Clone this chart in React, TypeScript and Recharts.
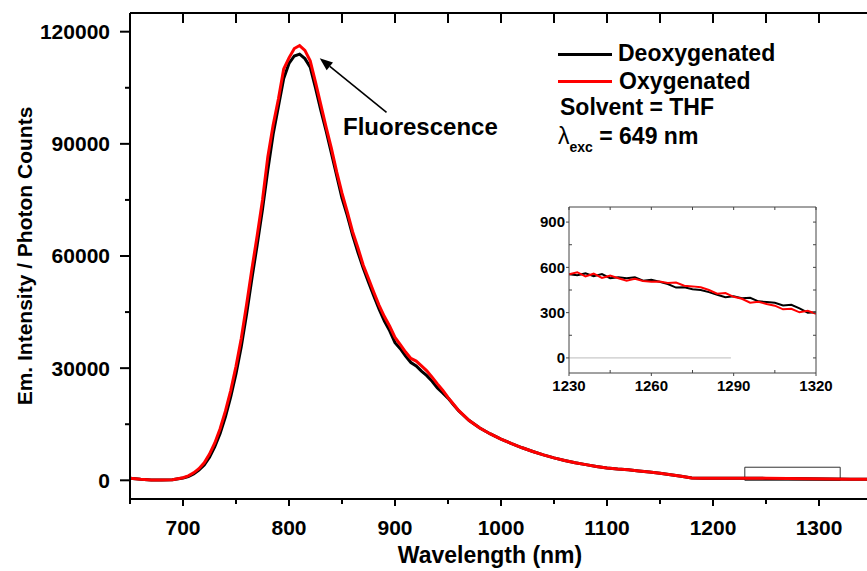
import { LineChart, Line, XAxis, YAxis, ReferenceArea, ReferenceLine } from "recharts";

const FONT = "'Liberation Sans', Arial, Helvetica, sans-serif";

// main spectrum (nm vs photon counts)
const wavelength = [
  650, 660, 670, 680, 690,
  700, 705, 710, 715, 720, 725, 730, 735, 740, 745,
  750, 755, 760, 765, 770, 775, 780, 785, 790, 795,
  800, 805, 810, 815, 820, 825, 830, 835, 840, 845,
  850, 855, 860, 865, 870, 875, 880, 885, 890, 895,
  900, 905, 910, 915, 920, 925, 930, 935, 940, 945,
  950, 955, 960,
  970, 980, 990, 1000, 1010, 1020, 1030, 1040, 1050, 1060,
  1070, 1080, 1090, 1100, 1110, 1120, 1130, 1140, 1150, 1160,
  1170, 1180,
  1190, 1210, 1230, 1250, 1270, 1290, 1310, 1330, 1350,
];

const oxygenated = [
  550, 280, 100, 60, 180,
  700, 1200, 2000, 3100, 4700, 7000, 10000, 13800, 18500, 24000,
  30500, 38000, 47000, 56500, 65500, 75000, 86500, 95000, 102000, 110000,
  113000, 115500, 116300, 115000, 112200, 106500, 100500, 94500, 88800, 82500,
  76800, 71800, 66500, 62200, 57600, 54000, 50300, 46800, 43800, 41200,
  38200, 36300, 34300, 32600, 31900, 30600, 29300, 27600, 25800, 24100,
  22200, 20400, 18700,
  16000, 14000, 12400, 11000, 9800, 8700, 7700, 6800, 6000, 5300,
  4700, 4200, 3700, 3300, 3000, 2800, 2500, 2200, 1900, 1500,
  1100, 650,
  580, 570, 555, 520, 490, 405, 330, 280, 250,
];

const deoxygenated = [
  550, 280, 100, 60, 160,
  600, 1000, 1700, 2700, 4100, 6200, 9000, 12500, 17000, 22300,
  28500, 35800, 44500, 54000, 63000, 72500, 83000, 92500, 100000, 107500,
  111500, 113500, 114000, 112800, 110500, 105000, 99000, 93500, 87500, 81500,
  75500, 70800, 65600, 61000, 56800, 53000, 49300, 45800, 42600, 40000,
  36800, 35200, 33200, 31500, 30600, 29200, 28000, 26500, 24700, 23400,
  22000, 20300, 18600,
  16000, 14000, 12400, 11000, 9800, 8700, 7700, 6800, 6000, 5300,
  4700, 4200, 3700, 3300, 3000, 2800, 2500, 2200, 1900, 1500,
  1100, 650,
  580, 570, 554, 515, 470, 409, 340, 285, 250,
];

// inset: zoom of the 1230-1320 nm tail
const insetWavelength = [
  1230, 1233, 1236, 1239, 1242, 1245, 1248, 1251, 1254, 1257,
  1260, 1263, 1266, 1269, 1272, 1275, 1278, 1281, 1284, 1287,
  1290, 1293, 1296, 1299, 1302, 1305, 1308, 1311, 1314, 1317, 1320,
];
const insetOxygenated = [
  555, 568, 540, 558, 530, 545, 528, 512, 524, 510,
  505, 507, 496, 500, 478, 474, 468, 450, 425, 430,
  405, 392, 366, 372, 357, 346, 322, 325, 302, 312, 292,
];
const insetDeoxygenated = [
  554, 548, 560, 542, 556, 528, 534, 528, 535, 512,
  518, 505, 490, 466, 468, 455, 450, 436, 418, 402,
  409, 396, 398, 375, 370, 365, 348, 352, 328, 300, 302,
];

const xTicks = [650, 700, 750, 800, 850, 900, 950, 1000, 1050, 1100, 1150, 1200, 1250, 1300, 1350];
const yTicks = [0, 15000, 30000, 45000, 60000, 75000, 90000, 105000, 120000];
const insetXTicks = [1230, 1245, 1260, 1275, 1290, 1305, 1320];
const insetYTicks = [0, 150, 300, 450, 600, 750, 900];

const mainData = wavelength.map((wl, i) => ({ wl, deox: deoxygenated[i], ox: oxygenated[i] }));
const insetData = insetWavelength.map((wl, i) => ({ wl, deox: insetDeoxygenated[i], ox: insetOxygenated[i] }));

// tick renderers (tickSize=0, so axis line = text anchor +/- tickMargin)
const mainYTick = (p: any) => {
  const v = p.payload.value;
  const major = v % 30000 === 0;
  const ax = p.x + 20;
  return (
    <g>
      <line x1={ax} x2={ax - (major ? 10 : 5)} y1={p.y} y2={p.y} stroke="#000" strokeWidth={2} />
      {major && (
        <text x={p.x} y={p.y} dy="0.355em" textAnchor="end" fontFamily={FONT} fontWeight="bold" fontSize={21} fill="#000">
          {v}
        </text>
      )}
    </g>
  );
};

const mainXTick = (p: any) => {
  const v = p.payload.value;
  const major = v % 100 === 0;
  const ay = p.y - 21;
  return (
    <g>
      <line x1={p.x} x2={p.x} y1={ay} y2={ay + (major ? 7 : 5)} stroke="#000" strokeWidth={2} />
      {major && (
        <text x={p.x} y={p.y} dy="0.71em" textAnchor="middle" fontFamily={FONT} fontWeight="bold" fontSize={21} fill="#000">
          {v}
        </text>
      )}
    </g>
  );
};

const mainTopTick = (p: any) => (
  <line x1={p.x} x2={p.x} y1={p.y} y2={p.y + 10} stroke="#000" strokeWidth={2} />
);

const insetYTick = (p: any) => {
  const v = p.payload.value;
  const major = v % 300 === 0;
  const ax = p.x + 4;
  return (
    <g>
      {major ? (
        <line x1={ax} x2={ax - 3} y1={p.y} y2={p.y} stroke="#444" strokeWidth={1} />
      ) : (
        <line x1={ax} x2={ax + 3} y1={p.y} y2={p.y} stroke="#444" strokeWidth={1} />
      )}
      {major && (
        <text x={p.x} y={p.y} dy="0.355em" textAnchor="end" fontFamily={FONT} fontWeight="bold" fontSize={15} fill="#000">
          {v}
        </text>
      )}
    </g>
  );
};

const insetXTick = (p: any) => {
  const v = p.payload.value;
  const major = (v - 1230) % 30 === 0;
  const ay = p.y - 7;
  return (
    <g>
      <line x1={p.x} x2={p.x} y1={ay} y2={major ? ay + 3 : ay - 3} stroke="#444" strokeWidth={1} />
      {major && (
        <text x={p.x} y={p.y} dy="0.71em" textAnchor="middle" fontFamily={FONT} fontWeight="bold" fontSize={15} fill="#000">
          {v}
        </text>
      )}
    </g>
  );
};

const insetTopTick = (p: any) => (
  <line x1={p.x} x2={p.x} y1={p.y} y2={p.y + 3} stroke="#444" strokeWidth={1} />
);

const insetRightTick = (p: any) => (
  <line x1={p.x} x2={p.x - 3} y1={p.y} y2={p.y} stroke="#444" strokeWidth={1} />
);

const arrowShape = (p: any) => {
  const { x1, y1, x2, y2 } = p;
  const a = Math.atan2(y2 - y1, x2 - x1);
  const len = 13;
  const half = 5;
  const bx = x2 - len * Math.cos(a);
  const by = y2 - len * Math.sin(a);
  const pts = `${x2},${y2} ${bx + half * Math.sin(a)},${by - half * Math.cos(a)} ${bx - half * Math.sin(a)},${by + half * Math.cos(a)}`;
  return (
    <g>
      <line x1={x1} y1={y1} x2={bx} y2={by} stroke="#000" strokeWidth={1.6} />
      <polygon points={pts} fill="#000" />
    </g>
  );
};

const txt: React.CSSProperties = {
  position: "absolute",
  fontFamily: FONT,
  fontWeight: "bold",
  fontSize: 23,
  lineHeight: "23px",
  color: "#000",
  whiteSpace: "nowrap",
};

export default function App() {
  return (
    <div
      style={{
        position: "absolute",
        left: 0,
        top: 0,
        width: 867,
        height: 571,
        overflow: "hidden",
        background: "#fff",
      }}
    >
      <LineChart width={880} height={571} data={mainData} margin={{ top: 0, right: 8, bottom: 0, left: 0 }}>
        <XAxis
          xAxisId="top"
          orientation="top"
          dataKey="wl"
          type="number"
          domain={[650, 1350]}
          ticks={xTicks}
          interval={0}
          height={13}
          tickSize={0}
          tickMargin={0}
          tickLine={false}
          tick={mainTopTick}
          axisLine={{ stroke: "#000", strokeWidth: 2 }}
          allowDataOverflow
        />
        <XAxis
          dataKey="wl"
          type="number"
          domain={[650, 1350]}
          ticks={xTicks}
          interval={0}
          height={72}
          tickSize={0}
          tickMargin={21}
          tickLine={false}
          tick={mainXTick}
          axisLine={{ stroke: "#000", strokeWidth: 2 }}
          allowDataOverflow
        />
        <YAxis
          type="number"
          domain={[-5000, 125000]}
          ticks={yTicks}
          interval={0}
          width={130}
          tickSize={0}
          tickMargin={20}
          tickLine={false}
          tick={mainYTick}
          axisLine={{ stroke: "#000", strokeWidth: 2 }}
          allowDataOverflow
        />
        <ReferenceArea x1={1230} x2={1320} y1={0} y2={3500} fill="none" fillOpacity={0} stroke="#333" strokeWidth={1} />
        <Line type="linear" dataKey="deox" stroke="#000" strokeWidth={3} dot={false} isAnimationActive={false} />
        <Line type="linear" dataKey="ox" stroke="#ff0000" strokeWidth={3} dot={false} isAnimationActive={false} />
        <ReferenceLine
          segment={[
            { x: 892, y: 98400 },
            { x: 829, y: 112900 },
          ]}
          shape={arrowShape}
        />
      </LineChart>

      {/* axis titles */}
      <div style={{ ...txt, left: 0, width: 980, top: 544, textAlign: "center" }}>Wavelength (nm)</div>
      <div
        style={{
          ...txt,
          fontSize: 21,
          left: 24,
          top: 256,
          transform: "translate(-50%, -50%) rotate(-90deg)",
        }}
      >
        Em. Intensity / Photon Counts
      </div>

      {/* annotation */}
      <div style={{ ...txt, fontSize: 24, lineHeight: "24px", left: 343, top: 115 }}>Fluorescence</div>

      {/* legend + notes */}
      <div style={{ position: "absolute", left: 558, top: 53, width: 54, height: 3, background: "#000" }} />
      <div style={{ ...txt, left: 618, top: 42 }}>Deoxygenated</div>
      <div style={{ position: "absolute", left: 558, top: 80, width: 54, height: 3, background: "#ff0000" }} />
      <div style={{ ...txt, left: 619, top: 70 }}>Oxygenated</div>
      <div style={{ ...txt, left: 560, top: 96 }}>Solvent = THF</div>
      <div style={{ ...txt, left: 558, top: 125 }}>
        <span style={{ fontWeight: "normal" }}>λ</span>
        <span style={{ fontSize: 14, position: "relative", top: 8 }}>exc</span>
        <span> = 649 nm</span>
      </div>

      {/* inset */}
      <div style={{ position: "absolute", left: 520, top: 195 }}>
        <LineChart width={340} height={200} data={insetData} margin={{ top: 0, right: 43, bottom: 0, left: 0 }}>
          <XAxis
            xAxisId="top"
            orientation="top"
            dataKey="wl"
            type="number"
            domain={[1230, 1320]}
            ticks={insetXTicks}
            interval={0}
            height={12}
            tickSize={0}
            tickMargin={0}
            tickLine={false}
            tick={insetTopTick}
            axisLine={{ stroke: "#444", strokeWidth: 1 }}
            allowDataOverflow
          />
          <XAxis
            dataKey="wl"
            type="number"
            domain={[1230, 1320]}
            ticks={insetXTicks}
            interval={0}
            height={22}
            tickSize={0}
            tickMargin={7}
            tickLine={false}
            tick={insetXTick}
            axisLine={{ stroke: "#444", strokeWidth: 1 }}
            allowDataOverflow
          />
          <YAxis
            type="number"
            domain={[-100, 1000]}
            ticks={insetYTicks}
            interval={0}
            width={49}
            tickSize={0}
            tickMargin={4}
            tickLine={false}
            tick={insetYTick}
            axisLine={{ stroke: "#444", strokeWidth: 1 }}
            allowDataOverflow
          />
          <YAxis
            yAxisId="right"
            orientation="right"
            type="number"
            domain={[-100, 1000]}
            ticks={insetYTicks}
            interval={0}
            width={1}
            tickSize={0}
            tickMargin={0}
            tickLine={false}
            tick={insetRightTick}
            axisLine={{ stroke: "#444", strokeWidth: 1 }}
            allowDataOverflow
          />
          <ReferenceLine
            segment={[
              { x: 1230, y: 0 },
              { x: 1289, y: 0 },
            ]}
            stroke="#bbb"
            strokeWidth={1}
          />
          <Line type="linear" dataKey="deox" stroke="#000" strokeWidth={2} dot={false} isAnimationActive={false} />
          <Line type="linear" dataKey="ox" stroke="#ff0000" strokeWidth={2} dot={false} isAnimationActive={false} />
        </LineChart>
      </div>
    </div>
  );
}
